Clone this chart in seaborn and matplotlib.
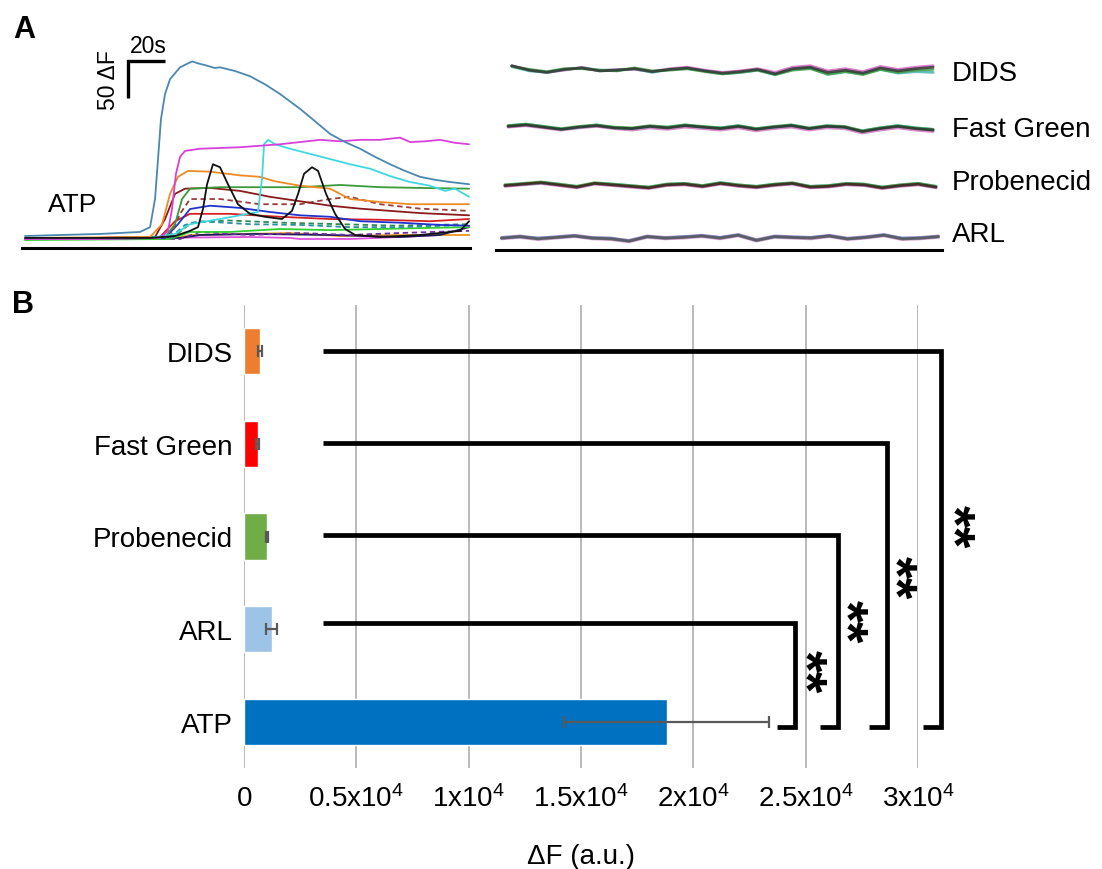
import numpy as np
import pandas as pd
import matplotlib
matplotlib.use("Agg")
import matplotlib.pyplot as plt
import seaborn as sns

# ---------------- Panel B data ----------------
categories = ["DIDS", "Fast Green", "Probenecid", "ARL", "ATP"]
mean_dF = [710, 610, 1025, 1235, 18820]
sem_dF = [70, 60, 60, 245, 4560]
bar_colors = ["#ED7D31", "#FF0000", "#70AD47", "#9DC3E6", "#0070C0"]
x_ticks = [0, 5000, 10000, 15000, 20000, 25000, 30000]
x_tick_labels = [r"$\mathregular{0}$", r"$\mathregular{0.5x10^{4}}$", r"$\mathregular{1x10^{4}}$",
                 r"$\mathregular{1.5x10^{4}}$", r"$\mathregular{2x10^{4}}$",
                 r"$\mathregular{2.5x10^{4}}$", r"$\mathregular{3x10^{4}}$"]
sig_labels = ["**", "**", "**", "**"]

# ---------------- Panel A (left) ATP traces: time (s), dF ----------------
teal_t = [0, 18.9, 40.5, 62.2, 67.6, 70.3, 71.9, 73.5, 75.7, 78.4, 83.8, 90.3, 94, 97.3, 102.7, 105.4,
          113.5, 121.6, 129.7, 137.8, 148.6, 156.8, 164.9, 173, 181.1, 189.2, 197.3, 205.4, 213.5, 221.6, 229.7, 240]
teal_f = [4, 5.4, 6.8, 9.5, 16, 54, 108, 162, 196, 216, 232, 240, 237, 235, 231, 232,
          227, 220, 209, 196, 176, 159, 142, 131, 122, 111, 101, 92, 84, 80, 77, 74]
magenta_t = [0, 40.5, 73, 77.3, 79.5, 81.6, 83.8, 86.5, 94.6, 105.4, 116.2, 127, 137.8, 148.6, 159.5, 170.3,
             181.1, 191.9, 202.7, 208.1, 216.2, 224.3, 232.4, 240]
magenta_f = [0, 0, 1.4, 11, 41, 88, 111, 119, 122, 123, 124, 126, 128, 131, 134, 132,
             134, 134, 137, 131, 132, 134, 130, 128]
cyan_t = [0, 67.6, 81.1, 89.2, 105.4, 125.9, 128.1, 129.2, 131.4, 135.1, 143.2, 154.1, 164.9, 175.7, 186.5,
          197.3, 208.1, 218.9, 227, 232.4, 240]
cyan_f = [0, 1.4, 6.8, 20, 27, 36.5, 81, 128, 134, 128, 122, 115, 108, 101, 95, 85, 77, 72, 65, 68, 57]
orange_t = [0, 67.6, 74.1, 78.4, 82.7, 88.1, 100, 116.2, 127, 135.1, 148.6, 164.9, 175.7, 191.9, 208.1, 224.3, 240]
orange_f = [1.4, 2.7, 20, 61, 84, 92, 91, 86, 84, 78, 72, 68, 54, 50, 47, 47, 47]
green_t = [0, 75.7, 81.1, 84.9, 89.2, 105.4, 127, 148.6, 170.3, 191.9, 213.5, 240]
green_f = [0, 2.7, 20, 54, 68, 70, 70, 70, 73, 70, 69, 68]
darkred_t = [0, 70.3, 75.7, 81.1, 86.5, 100, 116.2, 132.4, 148.6, 164.9, 181.1, 197.3, 213.5, 240]
darkred_f = [0, 2.7, 27, 61, 68, 69, 65, 57, 51, 45, 41, 38, 35, 32]
black_t = [0, 67.6, 81.1, 89.2, 93.5, 96.2, 98.4, 101.6, 105.4, 109.7, 115.1, 121.6, 129.7, 138.9, 144.3,
           147.6, 150.8, 155.1, 158.4, 162.7, 167.6, 173, 178.4, 191.9, 213.5, 229.7, 235.1, 240]
black_f = [1.4, 1.4, 4, 11, 16, 40.5, 74, 101, 97, 74, 47, 34, 30, 27, 38,
           61, 88, 97, 92, 61, 34, 13.5, 5.4, 2.7, 5.4, 9.5, 11, 24]
blue_t = [0, 75.7, 82.7, 89.2, 100, 116.2, 132.4, 148.6, 164.9, 181.1, 202.7, 224.3, 240]
blue_f = [0, 1.4, 20, 40.5, 45, 42, 36.5, 32, 30, 24, 22, 19, 18]
brown_dash_t = [0, 78.4, 83.8, 89.2, 105.4, 127, 148.6, 164.9, 175.7, 191.9, 213.5, 240]
brown_dash_f = [0, 2.7, 34, 54, 54, 47, 47, 54, 57, 47, 41, 38]
red_t = [0, 73, 81.1, 89.2, 110.8, 137.8, 164.9, 191.9, 218.9, 240]
red_f = [0, 2.7, 24, 34, 34, 30, 27, 26, 24, 27]
teal_dash_t = [0, 78.4, 86.5, 94.6, 121.6, 148.6, 175.7, 202.7, 240]
teal_dash_f = [0, 1.4, 19, 24, 20, 19, 16, 16, 19]
green_dash_t = [0, 80, 90, 110, 140, 170, 200, 240]
green_dash_f = [0, 2, 22, 25, 22, 20, 18, 20]
lime_t = [0, 78.4, 89.2, 110.8, 137.8, 164.9, 191.9, 218.9, 240]
lime_f = [-1.4, 0, 9.5, 9.5, 13.5, 12, 13.5, 15, 16]
purple_dash_t = [0, 83.8, 94.6, 121.6, 148.6, 175.7, 202.7, 240]
purple_dash_f = [0, 0, 9.5, 5.4, 8.1, 5.4, 8.1, 11]
lightorange_t = [0, 78.4, 89.2, 116.2, 143.2, 170.3, 197.3, 240]
lightorange_f = [0, 0, 5.4, 6.8, 8.1, 4, 5.4, 5.4]
pink_t = [0, 121.6, 143.2, 148.6, 175.7, 202.7, 224.3, 240]
pink_f = [0, 2.7, 1.4, 0, 0, 2.7, 5.4, 5.4]
navy_t = [0, 83.8, 94.6, 126, 164.9, 202.7, 224.3, 240]
navy_f = [0, 1.4, 5.4, 6.8, 5.4, 2.7, 5.4, 16]

# ---------------- Panel A (right) blocker traces: dF wiggles ----------------
band_names = ["DIDS", "Fast Green", "Probenecid", "ARL"]
dids_dark = [6, 0, -3, 1, 3, -1, 0, 2, -2, 1, 3, -1, -4, -2, 1, -5, 2, 4, -3, 0, -4, 3, -1, 2, 4]
dids_green = [5, 1, -2, 2, 2, 0, -1, 3, -1, 0, 2, -2, -5, -3, 0, -6, 0, 2, -5, -2, -6, 1, -3, 0, 1]
dids_magenta = [6, 0, -3, 0, 4, -1, 1, 1, -2, 2, 4, 0, -3, -1, 2, -3, 4, 6, -1, 2, -2, 5, 1, 4, 6]
dids_teal = [5, -1, -3, 1, 3, 0, 0, 2, -3, 1, 2, -1, -5, -3, 0, -6, 1, 3, -6, -2, -5, 1, -4, -2, -3]
fg_dark = [2, 4, 1, -2, 1, 3, 0, -1, 2, 0, 3, 1, -1, 2, -2, 1, 3, -1, 2, 1, -5, -1, 2, -1, -3]
fg_green = [3, 5, 2, -1, 2, 4, 1, 0, 3, 1, 4, 2, 0, 3, -1, 2, 4, 0, 3, 2, -4, 0, 3, 0, -2]
fg_magenta = [1, 3, 0, -3, 0, 2, -1, -3, 0, -2, 1, -1, -3, 0, -4, -1, 1, -3, 0, -1, -7, -3, 0, -3, -5]
fg_cyan = [3, 5, 2, -2, 1, 4, 0, -1, 2, 1, 4, 1, 0, 3, -1, 1, 4, -1, 3, 1, -4, 0, 3, 0, -2]
prob_dark = [0, 2, 4, 1, -2, 3, 1, -1, -3, 1, 2, -1, 3, 0, -2, 1, 3, -2, -1, 2, 1, -3, 0, 2, -2]
prob_green = [1, 3, 5, 2, -1, 4, 2, 0, -2, 2, 3, 0, 4, 1, -1, 2, 4, -1, 0, 3, 2, -2, 1, 3, -1]
prob_magenta = [-1, 1, 3, 0, -3, 2, 0, -2, -4, 0, 1, -2, 2, -1, -3, 0, 2, -3, -2, 1, 0, -4, -1, 1, -3]
prob_cyan = [1, 2, 4, 2, -1, 3, 2, 0, -2, 2, 3, 0, 4, 1, -1, 2, 3, -1, 0, 3, 2, -2, 1, 3, -1]
arl_dark = [0, 2, -1, 1, 3, 0, -1, -4, 2, 0, 1, 3, 0, 4, -3, 2, 1, 0, 3, -1, 1, 4, -1, 0, 2]
arl_violet = [1, 3, 0, 2, 4, 1, 0, -3, 3, 1, 2, 4, 1, 5, -2, 3, 2, 1, 4, 0, 2, 5, 0, 1, 3]
arl_pink = [-1, 1, -2, 0, 2, -1, -2, -5, 1, -1, 0, 2, -1, 3, -4, 1, 0, -1, 2, -2, 0, 3, -2, -1, 1]
arl_blue = [0, 2, 0, 1, 3, 0, 0, -4, 2, 0, 2, 3, 1, 4, -3, 2, 1, 1, 3, -1, 1, 4, 0, 0, 2]

# ---------------- style ----------------
sns.set_theme(style="white")
plt.rcParams["font.family"] = ["Liberation Sans", "DejaVu Sans"]
plt.rcParams["mathtext.fontset"] = "custom"
plt.rcParams["mathtext.rm"] = "Liberation Sans"
plt.rcParams["mathtext.it"] = "Liberation Sans:italic"
plt.rcParams["mathtext.bf"] = "Liberation Sans:bold"
for key in ["text.color", "axes.labelcolor", "xtick.color", "ytick.color"]:
    plt.rcParams[key] = "black"

W, H = 1102, 870
fig = plt.figure(figsize=(W / 100, H / 100), dpi=100)

def px_axes(x0, y0, x1, y1):
    return fig.add_axes([x0 / W, 1 - y1 / H, (x1 - x0) / W, (y1 - y0) / H])

def clean(ax):
    for s in ["top", "right", "left"]:
        ax.spines[s].set_visible(False)
    ax.spines["bottom"].set_color("black")
    ax.spines["bottom"].set_linewidth(2.2)
    ax.set_xticks([])
    ax.set_yticks([])
    ax.set_xlabel("")
    ax.set_ylabel("")

def line(ax, t, f, color, ls="-", lw=1.3, alpha=1.0):
    sns.lineplot(x=t, y=f, ax=ax, color=color, linestyle=ls, linewidth=lw, alpha=alpha,
                 estimator=None, sort=False, legend=False)

# ---------- Panel A left ----------
axL = px_axes(22, 55, 470, 248.5)
traces = [
    (pink_t, pink_f, "#e050e0", "-"),
    (lightorange_t, lightorange_f, "#f5a623", "-"),
    (navy_t, navy_f, "#1a1a60", "-"),
    (purple_dash_t, purple_dash_f, "#7030a0", (0, (3, 2))),
    (lime_t, lime_f, "#30d030", "-"),
    (green_dash_t, green_dash_f, "#2e8b57", (0, (3, 2))),
    (teal_dash_t, teal_dash_f, "#2a8fa0", (0, (3, 2))),
    (red_t, red_f, "#d62020", "-"),
    (blue_t, blue_f, "#2233cc", "-"),
    (brown_dash_t, brown_dash_f, "#9b3b3b", (0, (3, 2))),
    (darkred_t, darkred_f, "#8b1a1a", "-"),
    (green_t, green_f, "#3a9a3a", "-"),
    (orange_t, orange_f, "#f08a24", "-"),
    (cyan_t, cyan_f, "#40d8e0", "-"),
    (magenta_t, magenta_f, "#d940d9", "-"),
    (teal_t, teal_f, "#4a88b0", "-"),
    (black_t, black_f, "#111111", "-"),
]
for t, f, c, ls in traces:
    line(axL, t, f, c, ls)
axL.set_xlim(-1.6, 240.5)
axL.set_ylim(-11.5, 250)
clean(axL)
# scale bar: 20 s x 50 dF
axL.plot([55.9, 55.9, 75.9], [190.5, 240.5, 240.5], color="black", lw=2.4, clip_on=False,
         solid_joinstyle="miter", solid_capstyle="butt")
axL.text(44.9, 215.5, "50 ΔF", rotation=90, fontsize=16.5, ha="center", va="center")
axL.text(66.5, 262, "20s", fontsize=16.5, ha="center", va="center", clip_on=False)
axL.text(26, 47, "ATP", fontsize=19, ha="center", va="center")

# ---------- Panel A right ----------
axR = px_axes(496, 50, 942, 251)
band_offsets = [243, 165, 87, 16]
band_spans = [(8, 235.7), (6, 235.7), (4.3, 237.3), (2.5, 238.6)]
band_traces = [
    [(dids_magenta, "#d060c0"), (dids_teal, "#40b0b0"), (dids_green, "#3a9a3a"), (dids_dark, "#333333")],
    [(fg_magenta, "#d070c0"), (fg_cyan, "#40c0c0"), (fg_green, "#3a9a3a"), (fg_dark, "#2a2a2a")],
    [(prob_magenta, "#c060b0"), (prob_cyan, "#40b8b8"), (prob_green, "#4a9a3a"), (prob_dark, "#3a1a1a")],
    [(arl_pink, "#d090c8"), (arl_violet, "#9070c0"), (arl_blue, "#6080b0"), (arl_dark, "#555555")],
]
label_y = [239, 163.5, 92, 21.6]
for off, (t0, t1), trs, name, ly in zip(band_offsets, band_spans, band_traces, band_names, label_y):
    tt = np.linspace(t0, t1, len(trs[0][0]))
    for vals, c in trs:
        line(axR, tt, np.array(vals) + off, c, lw=2.0, alpha=0.8)
    axR.text(246, ly, name, fontsize=20, ha="left", va="center", clip_on=False)
axR.set_xlim(-0.5, 240.5)
axR.set_ylim(0, 271.6)
clean(axR)

# ---------- Panel B ----------
axB = px_axes(244, 306, 918, 769)
df = pd.DataFrame({"cat": categories, "val": mean_dF})
sns.barplot(data=df, x="val", y="cat", hue="cat", order=categories, hue_order=categories,
            palette=bar_colors, legend=False, width=0.5, errorbar=None, orient="h",
            saturation=1, ax=axB, zorder=3)
axB.errorbar(mean_dF, np.arange(len(categories)), xerr=sem_dF, fmt="none", ecolor="#595959",
             elinewidth=1.6, capsize=4.5, capthick=1.6, zorder=4)
axB.set_xlim(0, 30000)
axB.set_ylim(4.5, -0.5)
axB.set_xticks(x_ticks)
axB.set_xticklabels(x_tick_labels, fontsize=20)
axB.tick_params(axis="x", length=0, pad=12)
axB.tick_params(axis="y", length=0, pad=8, labelsize=20)
axB.set_ylabel("")
axB.set_xlabel("ΔF (a.u.)", fontsize=20, labelpad=22)
for s in axB.spines.values():
    s.set_visible(False)
axB.grid(axis="x", color="#a6a6a6", lw=1.1)
axB.grid(axis="y", visible=False)
axB.set_axisbelow(True)

# significance brackets (DIDS, Fast Green, Probenecid, ARL vs ATP)
bracket_right = [31020, 28620, 26440, 24525]
bracket_top = [0, 0.99, 1.98, 2.93]
star_x = [31440, 28860, 26680, 24855]
star_y = [1.88, 2.43, 2.91, 3.45]
for xr, yt, sx, sy, lab in zip(bracket_right, bracket_top, star_x, star_y, sig_labels):
    axB.plot([3500, xr, xr, xr - 800], [yt, yt, 4.06, 4.06], color="black", lw=3.4,
             clip_on=False, solid_joinstyle="miter", solid_capstyle="butt", zorder=5)
    axB.text(sx, sy, lab, rotation=270, fontsize=40, fontweight="bold", ha="center",
             va="center", clip_on=False)

fig.text(24 / W, 1 - 30 / H, "A", fontsize=22, fontweight="bold", ha="center", va="center")
fig.text(23 / W, 1 - 305 / H, "B", fontsize=22, fontweight="bold", ha="center", va="center")

fig.savefig("out.png", dpi=100)
